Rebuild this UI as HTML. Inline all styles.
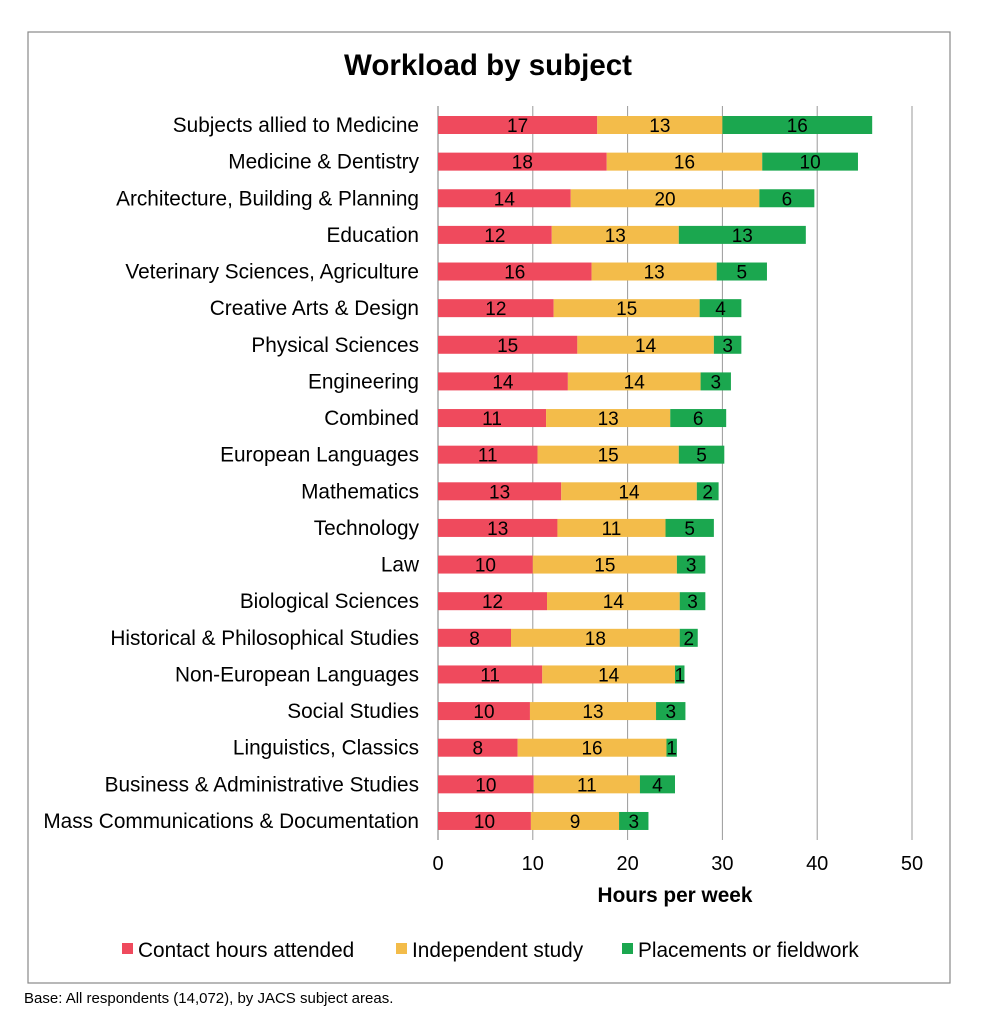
<!DOCTYPE html>
<html><head><meta charset="utf-8"><style>
body{margin:0;background:#fff;font-family:"Liberation Sans",sans-serif;}
svg text{font-family:"Liberation Sans",sans-serif;}
</style></head><body>
<svg id="chart" width="993" height="1024">
<rect x="28" y="32" width="922" height="951" fill="#fff" stroke="#888" stroke-width="1.2"/>
<text x="488" y="75" font-size="29.5" font-weight="bold" text-anchor="middle">Workload by subject</text>
<g id="grid"></g><g id="bars"></g><g id="labels"></g><g id="ticks"></g>
<text x="675" y="902" font-size="20.8" font-weight="bold" text-anchor="middle">Hours per week</text>
<g>
<rect x="122" y="943" width="11" height="11" fill="#ef4a5d"/>
<text x="138" y="957" font-size="20.8">Contact hours attended</text>
<rect x="396" y="943" width="11" height="11" fill="#f3bc4a"/>
<text x="412" y="957" font-size="20.8">Independent study</text>
<rect x="622" y="943" width="11" height="11" fill="#1ba74f"/>
<text x="638" y="957" font-size="20.8">Placements or fieldwork</text>
</g>
<text x="24" y="1003" font-size="15">Base: All respondents (14,072), by JACS subject areas.</text>
</svg>
<script>
const categories=["Subjects allied to Medicine","Medicine & Dentistry","Architecture, Building & Planning","Education","Veterinary Sciences, Agriculture","Creative Arts & Design","Physical Sciences","Engineering","Combined","European Languages","Mathematics","Technology","Law","Biological Sciences","Historical & Philosophical Studies","Non-European Languages ","Social Studies","Linguistics, Classics ","Business & Administrative Studies","Mass Communications & Documentation"];
const contactHours=[16.8,17.8,14.0,12.0,16.2,12.2,14.7,13.7,11.4,10.5,13.0,12.6,10.0,11.5,7.7,11.0,9.7,8.4,10.1,9.8];
const independentStudy=[13.2,16.4,19.9,13.4,13.2,15.4,14.4,14.0,13.1,14.9,14.3,11.4,15.2,14.0,17.8,14.0,13.3,15.7,11.2,9.3];
const placements=[15.8,10.1,5.8,13.4,5.3,4.4,2.9,3.2,5.9,4.8,2.3,5.1,3.0,2.7,1.9,1.0,3.1,1.1,3.7,3.1];
const tickValues=[0,10,20,30,40,50];
const ns="http://www.w3.org/2000/svg";
const x0=438,x1=912,yTop=125,rowStep=36.63,barH=18;
const xs=v=>x0+(v/50)*(x1-x0);
const ys=i=>yTop+i*rowStep;
function mk(tag,attrs,parent){const e=document.createElementNS(ns,tag);for(const k in attrs)e.setAttribute(k,attrs[k]);document.getElementById(parent).appendChild(e);return e;}
tickValues.forEach(t=>{
 if(t>0){const g=mk("line",{x1:xs(t),x2:xs(t),y1:106,y2:840,stroke:"#9a9a9a","stroke-width":1},"grid");
 
 }
 const tx=mk("text",{x:xs(t),y:870,"font-size":20,"text-anchor":"middle"},"ticks");
 tx.textContent=t;
 
 
});
const ax=mk("line",{x1:x0,x2:x0,y1:106,y2:840,stroke:"#777","stroke-width":1},"grid");


const series=[[contactHours,"#ef4a5d","contact"],[independentStudy,"#f3bc4a","independent"],[placements,"#1ba74f","placements"]];
categories.forEach((c,i)=>{
 const cy=ys(i);
 const lb=mk("text",{x:419,y:cy+7,"font-size":20.8,"text-anchor":"end"},"labels");
 lb.textContent=c;
 
 
 let acc=0;
 series.forEach(s=>{
  const v=s[0][i];
  const r=mk("rect",{x:xs(acc),y:cy-barH/2,width:xs(acc+v)-xs(acc),height:barH,fill:s[1]},"bars");
  
  
  const t=mk("text",{x:(xs(acc)+xs(acc+v))/2,y:cy+7,"font-size":19,"text-anchor":"middle"},"bars");
  t.textContent=Math.round(v);
  
  
  acc+=v;
 });
});
</script>
</body></html>
